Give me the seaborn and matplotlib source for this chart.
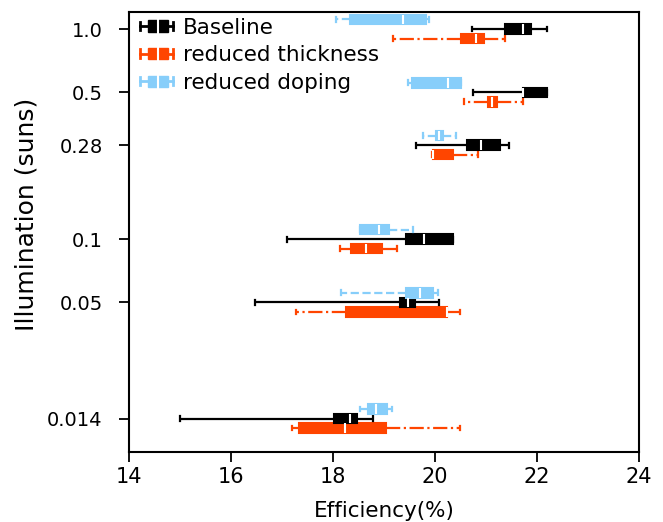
import numpy as np
import pandas as pd
import matplotlib
matplotlib.use('Agg')
import matplotlib.pyplot as plt
import seaborn as sns
from matplotlib.legend_handler import HandlerBase
from matplotlib.lines import Line2D
from matplotlib.patches import Rectangle
from matplotlib.ticker import NullLocator, FixedLocator, FixedFormatter

# illumination levels (suns) and their tick labels
illum = [1.0, 0.5, 0.28, 0.1, 0.05, 0.014]
tick_labels = ['1.0', '0.5', '0.28', '0.1', '0.05', '0.014']

series = ['Baseline', 'reduced thickness', 'reduced doping']
colors = {'Baseline': 'black', 'reduced thickness': 'orangered',
          'reduced doping': 'lightskyblue'}
styles = {'Baseline': '-', 'reduced thickness': '-.', 'reduced doping': '--'}

# efficiency (%) summaries per illumination: min, q1, median, q3, max
baseline = [
    [20.72, 21.38, 21.73, 21.88, 22.19],
    [20.74, 21.72, 21.72, 22.19, 22.19],
    [19.63, 20.63, 20.90, 21.28, 21.46],
    [17.09, 19.44, 19.78, 20.35, 20.35],
    [16.48, 19.31, 19.48, 19.61, 20.08],
    [15.00, 18.01, 18.33, 18.48, 18.79],
]
thickness = [
    [19.17, 20.50, 20.80, 20.96, 21.38],
    [20.57, 21.03, 21.11, 21.21, 21.73],
    [19.94, 19.97, 19.97, 20.36, 20.85],
    [18.14, 18.35, 18.65, 18.97, 19.25],
    [17.27, 18.25, 20.24, 20.24, 20.49],
    [17.19, 17.34, 18.24, 19.04, 20.49],
]
doping = [
    [18.06, 18.33, 19.38, 19.82, 19.88],
    [19.48, 19.54, 20.25, 20.51, 20.51],
    [19.77, 20.02, 20.08, 20.15, 20.41],
    [18.52, 18.52, 18.91, 19.10, 19.56],
    [18.15, 19.43, 19.71, 19.97, 20.05],
    [18.53, 18.69, 18.84, 19.05, 19.15],
]

rows = []
for name, stats in zip(series, [baseline, thickness, doping]):
    for lvl, vals in zip(illum, stats):
        for v in vals:
            rows.append({'series': name, 'illum': lvl, 'eff': v})
df = pd.DataFrame(rows)

# bottom to top within each group
draw_order = ['reduced thickness', 'Baseline', 'reduced doping']

fig, ax = plt.subplots(figsize=(6.63, 5.22), dpi=100)
fig.subplots_adjust(left=0.1946, right=0.9638, bottom=0.1341, top=0.977)

sns.boxplot(data=df, x='eff', y='illum', hue='series', hue_order=draw_order,
            orient='y', native_scale=True, log_scale=(False, True),
            whis=(0, 100), width=0.54, gap=0, saturation=1,
            palette=colors, linewidth=1.5, legend=False, ax=ax)

for name, cont in zip(draw_order, ax.containers):
    c = colors[name]
    for b in cont.boxes:
        b.set_facecolor(c)
        b.set_edgecolor(c)
    for w in cont.whiskers:
        w.set_color(c)
        w.set_linestyle(styles[name])
        w.set_linewidth(1.6)
    for cp in cont.caps:
        cp.set_color(c)
        cp.set_linewidth(1.6)
    for m in cont.medians:
        m.set_color('white')
        m.set_linewidth(1.5)

ax.set_xlim(14, 24)
ax.set_ylim(0.0097, 1.205)
ax.yaxis.set_major_locator(FixedLocator(illum))
ax.yaxis.set_major_formatter(FixedFormatter(tick_labels))
ax.yaxis.set_minor_locator(NullLocator())
ax.set_xticks([14, 16, 18, 20, 22, 24])

ax.set_xlabel('Efficiency(%)', fontsize=15.5, labelpad=10)
ax.set_ylabel('Illumination (suns)', fontsize=18)
ax.yaxis.set_label_coords(-0.178, 0.54)
ax.tick_params(axis='x', labelsize=15, length=7, width=1.3, pad=4)
ax.tick_params(axis='y', labelsize=14, length=7, width=1.3, pad=12)
for s in ax.spines.values():
    s.set_linewidth(1.5)
    s.set_color('black')


class BoxHandler(HandlerBase):
    def create_artists(self, legend, orig_handle, xd, yd, width, height,
                       fontsize, trans):
        c = orig_handle.get_color()
        y = height / 2 - yd
        x0 = -xd
        h = 8
        arts = [
            Line2D([x0, x0 + width], [y, y], color=c, lw=2),
            Line2D([x0, x0], [y - 3, y + 3], color=c, lw=2),
            Line2D([x0 + width] * 2, [y - 3, y + 3], color=c, lw=2),
            Rectangle((x0 + width * 0.24, y - h / 2), width * 0.62, h,
                      facecolor=c, edgecolor=c, lw=1),
            Line2D([x0 + width * 0.56] * 2, [y - h / 2 - 1, y + h / 2 + 1],
                   color='white', lw=1.5),
        ]
        for a in arts:
            a.set_transform(trans)
        return arts


handles = [Line2D([], [], color=colors[s]) for s in series]
ax.legend(handles, series, handler_map={Line2D: BoxHandler()},
          loc='upper left', bbox_to_anchor=(0.008, 1.002), frameon=False,
          fontsize=15.5, handlelength=1.55, handletextpad=0.45,
          labelspacing=0.35, borderaxespad=0.1, borderpad=0.2)

fig.savefig('out.png', dpi=100)
